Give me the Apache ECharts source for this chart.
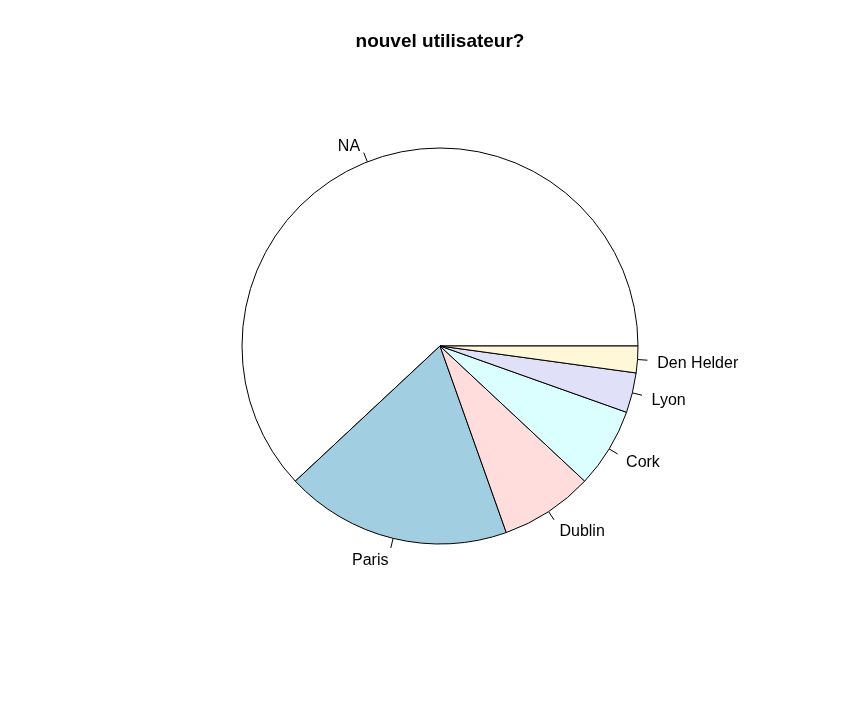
<!DOCTYPE html>
<html><head><meta charset="utf-8">
<script src="https://cdn.jsdelivr.net/npm/echarts@6/dist/echarts.min.js"></script>
<style>html,body{margin:0;padding:0;background:#fff}#c{width:842px;height:712px}</style>
</head><body><div id="c"></div>
<script>
const categories = ["NA", "Paris", "Dublin", "Cork", "Lyon", "Den Helder"];
const counts = [57, 17, 7, 6, 3, 2];
const colors = ["#FFFFFF", "#A1CFE1", "#FFDDDC", "#DBFFFF", "#E1E0F9", "#FFF7D7"];
const titleText = "nouvel utilisateur?";

const FONT = 'Liberation Sans, Arial, sans-serif';
const CX = 440, CY = 346, R = 198;
const data = categories.map((c, i) => ({name: c, value: counts[i]}));
const total = counts.reduce((a, b) => a + b, 0);
const midAngles = [];
{ let acc = 0; counts.forEach(v => { midAngles.push((acc + v / 2) / total * 2 * Math.PI); acc += v; }); }

const chart = echarts.init(document.getElementById('c'), null, {renderer: 'canvas'});
chart.setOption({
  animation: false,
  backgroundColor: '#fff',
  graphic: [{
    type: 'text', x: CX, y: 42,
    style: {text: titleText, align: 'center', verticalAlign: 'middle',
      font: 'bold 19px ' + FONT, fill: '#000'}
  }],
  series: [{
    type: 'pie',
    center: [CX, CY],
    radius: [0, R],
    startAngle: 0,
    clockwise: false,
    minAngle: 0,
    avoidLabelOverlap: false,
    silent: true,
    data: data.map((d, i) => ({...d, itemStyle: {color: colors[i]}})),
    itemStyle: {borderColor: '#000', borderWidth: 1},
    label: {show: true, position: 'outside', formatter: ' ', fontSize: 1, distanceToLabelLine: 0, alignTo: 'none'},
    labelLine: {show: true, length: R * 0.05, length2: 0.01, smooth: false, lineStyle: {color: '#000', width: 1}}
  }, {
    type: 'pie',
    center: [CX, CY],
    radius: [R * 1.1 - 0.5, R * 1.1 + 0.5],
    startAngle: 0,
    clockwise: false,
    minAngle: 0,
    avoidLabelOverlap: false,
    silent: true,
    z: 5,
    data: data,
    itemStyle: {color: 'rgba(0,0,0,0)', borderWidth: 0},
    label: {show: true, position: 'inside', formatter: '{b}', fontFamily: FONT, fontSize: 16, color: '#000'},
    labelLine: {show: false},
    labelLayout: function (p) {
      const a = midAngles[p.dataIndex];
      const x = CX + 1.1 * R * Math.cos(a), y = CY - 1.1 * R * Math.sin(a);
      return {x: x, y: y + 3, align: Math.cos(a) >= 0 ? 'left' : 'right', verticalAlign: 'middle'};
    }
  }]
});
</script></body></html>
